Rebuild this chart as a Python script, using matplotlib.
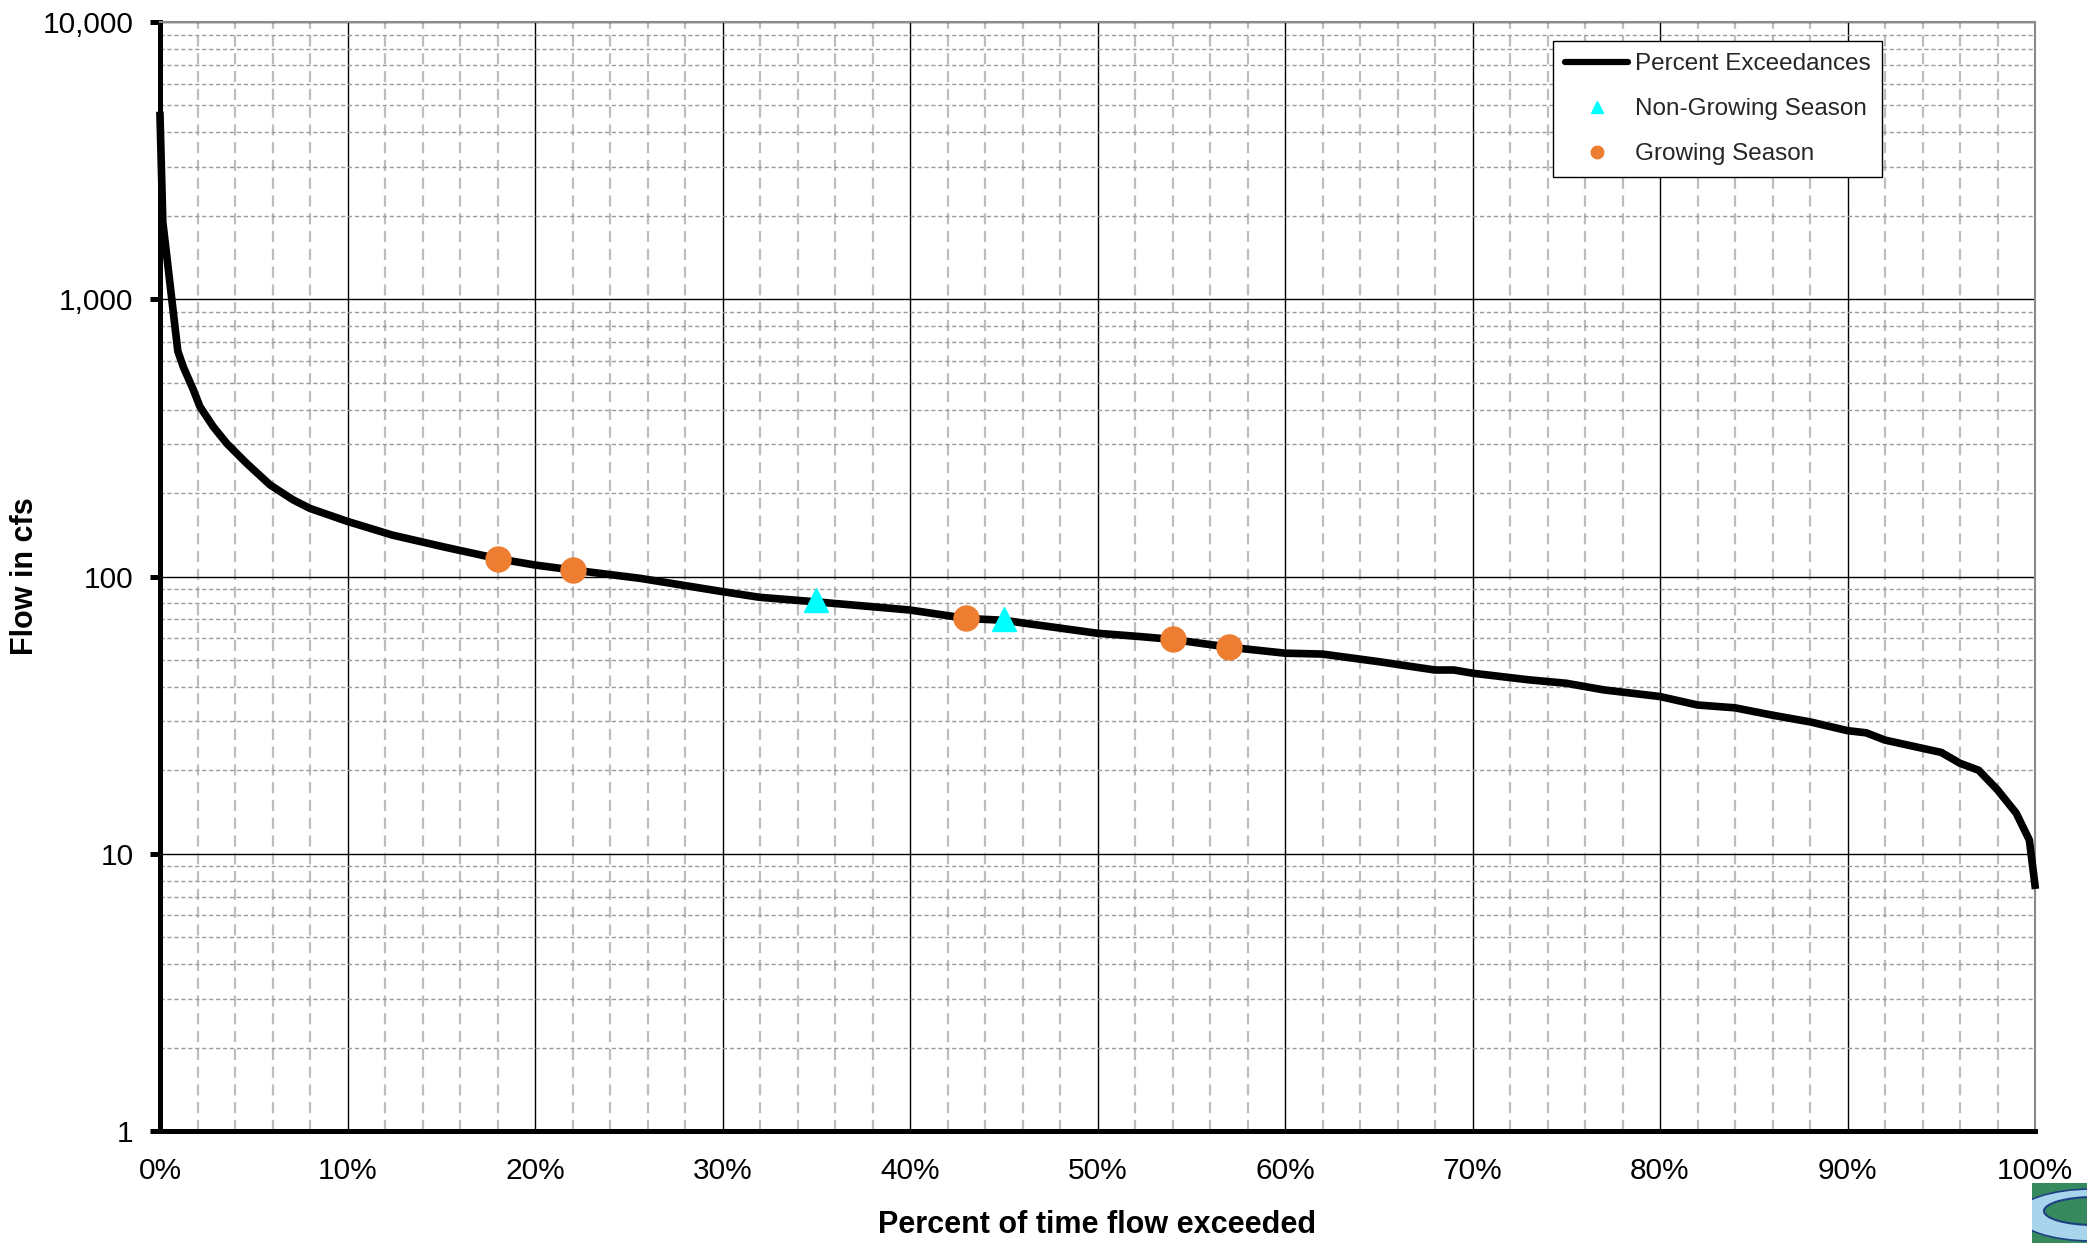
import numpy as np
import matplotlib
matplotlib.use('Agg')
import matplotlib.pyplot as plt
from matplotlib.lines import Line2D
from matplotlib.patches import Rectangle, Ellipse
from matplotlib.ticker import FuncFormatter, MultipleLocator, LogLocator

plt.rcParams['font.family'] = ['Liberation Sans', 'DejaVu Sans']

# Flow duration curve (percent of time exceeded, flow in cfs)
pct_exceeded = [0, 0.15, 0.95, 1.24, 1.78, 2.13, 2.84, 3.56, 4.62, 5.87, 7.1, 8, 10, 12.4,
                15.1, 18, 20, 22, 25.6, 30, 32, 35, 38, 40, 43, 45, 50, 52.3, 54, 57, 60,
                62, 65, 68, 69, 70, 73, 75, 77, 80, 82, 84, 86, 88, 90, 91, 92, 95, 96,
                97, 98, 99, 99.7, 100]
flow_cfs = [4600, 1900, 650, 571, 471, 410, 347, 302, 256, 214, 189, 176, 158, 141,
            128, 116, 110, 105.6, 98.5, 88.2, 84.1, 81, 77.8, 75.7, 70.6, 69.5, 62.4,
            60.7, 59.3, 55.6, 52.9, 52.5, 49.3, 46, 46, 44.8, 42.4, 41.2, 39.0, 36.9,
            34.4, 33.6, 31.6, 29.9, 27.8, 27.3, 25.7, 23.2, 21.2, 20.0, 17.0, 14.0,
            11.2, 7.7]

# sample points
nongrow_pct = [35, 45]
nongrow_flow = [82, 70]
grow_pct = [18, 22, 43, 54, 57]
grow_flow = [116, 105.6, 70.6, 59.3, 55.6]

x_ticks = list(range(0, 101, 10))
y_ticks = [1, 10, 100, 1000, 10000]

orange = '#ED7D31'
cyan = '#00FFFF'

W, H = 2087, 1243
fig = plt.figure(figsize=(W / 100, H / 100), dpi=100)
left, right, top, bottom = 160, 2035, 22, 1131
ax = fig.add_axes([left / W, 1 - bottom / H, (right - left) / W, (bottom - top) / H])

ax.set_yscale('log')
ax.set_xlim(0, 100)
ax.set_ylim(1, 10000)

# grid
ax.xaxis.set_minor_locator(MultipleLocator(2))
ax.yaxis.set_minor_locator(LogLocator(base=10, subs=np.arange(2, 10)))
ax.grid(which='major', color='black', linewidth=1.0, linestyle='-')
ax.grid(which='minor', axis='y', color='#9a9a9a', linewidth=1.0, linestyle=(0, (3, 2)))
ax.grid(which='minor', axis='x', color='#bdbdbd', linewidth=1.6, linestyle=(0, (5, 3)))
ax.set_axisbelow(True)

ax.plot(pct_exceeded, flow_cfs, color='black', linewidth=5.5, solid_joinstyle='round',
        zorder=3, clip_on=False)
ax.plot(nongrow_pct, nongrow_flow, linestyle='none', marker='^', markersize=17,
        color=cyan, zorder=4)
ax.plot(grow_pct, grow_flow, linestyle='none', marker='o', markersize=18,
        color=orange, zorder=4)

# axes styling
for side in ['left', 'bottom']:
    ax.spines[side].set_linewidth(3.6)
    ax.spines[side].set_color('black')
for side in ['top', 'right']:
    ax.spines[side].set_linewidth(1.5)
    ax.spines[side].set_color('#8a8a8a')

ax.set_xticks(x_ticks)
ax.set_xticklabels([f'{t}%' for t in x_ticks])
ax.set_yticks(y_ticks)
ax.yaxis.set_major_formatter(FuncFormatter(lambda v, p: f'{v:,.0f}'))
ax.tick_params(axis='x', which='both', length=0, pad=19, labelsize=21.5)
ax.tick_params(axis='y', which='major', length=7, width=3.6, pad=12, labelsize=21.5)
ax.tick_params(axis='y', which='minor', length=0)

ax.set_xlabel('Percent of time flow exceeded', fontsize=22, fontweight='bold')
ax.set_ylabel('Flow in cfs', fontsize=22, fontweight='bold')
ax.xaxis.set_label_coords(0.5, -0.071)
ax.yaxis.set_label_coords(-0.064, 0.5)

handles = [
    Line2D([], [], color='black', linewidth=4.5, solid_capstyle='round'),
    Line2D([], [], linestyle='none', marker='^', markersize=8, color=cyan),
    Line2D([], [], linestyle='none', marker='o', markersize=9, color=orange),
]
labels = ['Percent Exceedances', 'Non-Growing Season', 'Growing Season']
leg = ax.legend(handles, labels, loc='upper left', bbox_to_anchor=(0.743, 0.983),
                fontsize=17.5, frameon=True, fancybox=False, framealpha=1,
                edgecolor='black', handlelength=2.6, handletextpad=0.25,
                borderpad=0.5, labelspacing=0.95, borderaxespad=0)
leg.get_frame().set_linewidth(1.0)
for t in leg.get_texts():
    t.set_color('#262626')

# small logo in the bottom right corner
lx0, ly0 = 2032, 1183
logo = fig.add_axes([lx0 / W, 0, (W - lx0) / W, (H - ly0) / H])
logo.set_xlim(0, W - lx0)
logo.set_ylim(H - ly0, 0)
logo.axis('off')
logo.add_patch(Rectangle((0, 0), W - lx0, H - ly0, color='#368A5E'))
logo.add_patch(Ellipse((60, 32), 150, 52, color='#A8D5EC', ec='#1F3F85', lw=1.2))
logo.add_patch(Ellipse((62, 28), 100, 28, color='#368A5E', ec='#1F3F85', lw=1.5))

fig.savefig('out.png', dpi=100)
